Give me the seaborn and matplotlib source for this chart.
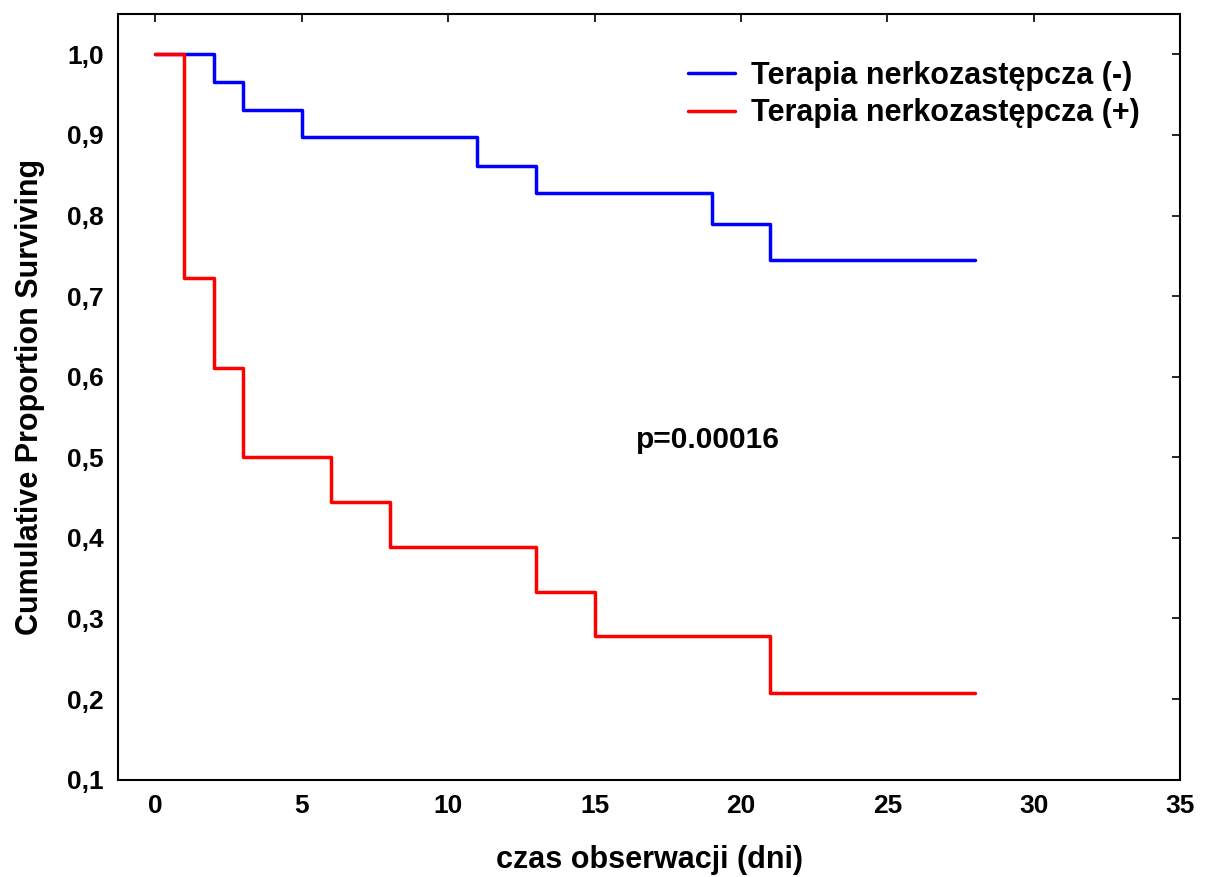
import numpy as np
import pandas as pd
import matplotlib
matplotlib.use("Agg")
import matplotlib.pyplot as plt
import seaborn as sns

# Kaplan-Meier steps
time_minus = [0, 2, 3, 5, 11, 13, 19, 21, 28]
surv_minus = [1.0, 0.966, 0.931, 0.897, 0.862, 0.828, 0.789, 0.745, 0.745]
time_plus = [0, 1, 2, 3, 6, 8, 13, 15, 21, 28]
surv_plus = [1.0, 0.722, 0.611, 0.5, 0.444, 0.389, 0.333, 0.278, 0.208, 0.208]

label_minus = "Terapia nerkozastępcza (-)"
label_plus = "Terapia nerkozastępcza (+)"
x_ticks = [0, 5, 10, 15, 20, 25, 30, 35]
y_ticks = [0.1, 0.2, 0.3, 0.4, 0.5, 0.6, 0.7, 0.8, 0.9, 1.0]

df = pd.concat([
    pd.DataFrame({"time": time_minus, "surv": surv_minus, "group": label_minus}),
    pd.DataFrame({"time": time_plus, "surv": surv_plus, "group": label_plus}),
], ignore_index=True)

sns.set_style("white")
plt.rcParams['font.family'] = ['Liberation Sans', 'DejaVu Sans']
plt.rcParams['font.weight'] = 'bold'
plt.rcParams['text.color'] = 'black'
plt.rcParams['axes.labelcolor'] = 'black'
plt.rcParams['xtick.color'] = 'black'
plt.rcParams['ytick.color'] = 'black'

fig = plt.figure(figsize=(12.1, 8.77), dpi=100)
ax = fig.add_axes([0.0975, 0.111, 0.878, 0.873])

sns.lineplot(data=df, x="time", y="surv", hue="group", estimator=None,
             palette={label_minus: "#0000ff", label_plus: "#ff0000"},
             drawstyle="steps-post", linewidth=2.5, ax=ax, sort=False)

ax.set_xlim(-1.27, 35)
ax.set_ylim(0.1, 1.05)
ax.set_xticks(x_ticks)
ax.set_yticks(y_ticks)
ax.set_yticklabels([f"{v:.1f}".replace(".", ",") for v in y_ticks])
ax.tick_params(axis="both", direction="in", length=6, width=1.2, labelsize=19,
               pad=10, colors="black")
ax.tick_params(top=True, right=True)
for lab in ax.get_xticklabels() + ax.get_yticklabels():
    lab.set_fontweight("bold")

for sp in ax.spines.values():
    sp.set_color("black")
    sp.set_linewidth(1.5)

ax.set_xlabel("czas obserwacji (dni)", fontsize=22, fontweight="bold", labelpad=20)
ax.set_ylabel("Cumulative Proportion Surviving", fontsize=22, fontweight="bold", labelpad=16)

ax.text(16.4, 0.522, "p=0.00016", fontsize=21.5, fontweight="bold", va="center", ha="left")

leg = ax.legend(loc="upper left", bbox_to_anchor=(0.525, 0.955), frameon=False,
                fontsize=22, handlelength=1.55, handletextpad=0.5, labelspacing=0.25,
                borderaxespad=0)
for t in leg.get_texts():
    t.set_fontweight("bold")

fig.savefig("out.png", dpi=100)
